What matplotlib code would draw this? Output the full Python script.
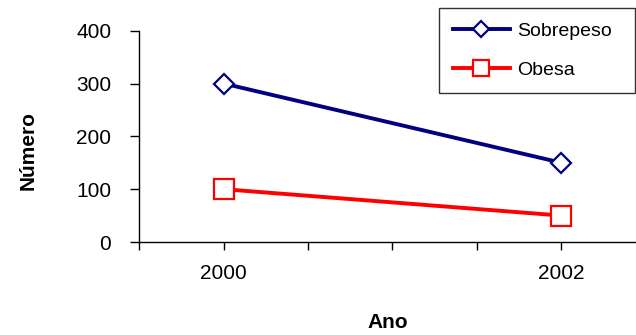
import matplotlib.pyplot as plt
from matplotlib.ticker import FixedLocator

plt.rcParams['font.family'] = ['Liberation Sans', 'DejaVu Sans']

# data
anos = [2000, 2002]
sobrepeso = [300, 150]
obesa = [100, 50]

x_ticks = [1999.5, 2000, 2000.5, 2001, 2001.5, 2002, 2002.5]
x_labels = ['', '2000', '', '', '', '2002', '']
y_ticks = [0, 100, 200, 300, 400]

fig = plt.figure(figsize=(6.36, 3.35), dpi=100)
ax = fig.add_axes([0.2186, 0.2776, 0.797, 0.6308])

ax.plot(anos, sobrepeso, color='#000080', lw=2.8, marker='D', ms=10.6,
        mfc='white', mec='#000080', mew=1.6, label='Sobrepeso', zorder=3)
ax.plot(anos, obesa, color='#FF0000', lw=2.8, marker='s', ms=15,
        mfc='white', mec='#FF0000', mew=1.6, label='Obesa', zorder=3)

ax.set_xlim(1999.5, 2002.5)
ax.set_ylim(0, 400)
ax.xaxis.set_major_locator(FixedLocator(x_ticks))
ax.set_xticklabels(x_labels)
ax.set_yticks(y_ticks)

for side in ['top', 'right']:
    ax.spines[side].set_visible(False)
for side in ['left', 'bottom']:
    ax.spines[side].set_linewidth(1.0)
    ax.spines[side].set_color('black')

ax.tick_params(axis='y', direction='out', length=6.5, width=1.0, pad=13.5, labelsize=15)
ax.tick_params(axis='x', direction='out', length=6, width=1.0, pad=10, labelsize=15)

ax.set_xlabel('Ano', fontsize=15, fontweight='bold', va='center')
ax.xaxis.set_label_coords(0.491, -0.379)
ax.set_ylabel('Número', fontsize=15, fontweight='bold', va='center')
ax.yaxis.set_label_coords(-0.219, 0.435)

leg = ax.legend(loc='upper left', bbox_to_anchor=(0.690, 0.0, 0.308, 0.976),
                bbox_transform=fig.transFigure, mode='expand',
                fontsize=14, frameon=True, fancybox=False, shadow=False,
                handlelength=2.93, handletextpad=0.36, borderpad=0.72,
                labelspacing=1.1, markerscale=0.8, borderaxespad=0)
leg.get_frame().set_edgecolor('black')
leg.get_frame().set_linewidth(1.0)

fig.savefig('out.png', dpi=100)
